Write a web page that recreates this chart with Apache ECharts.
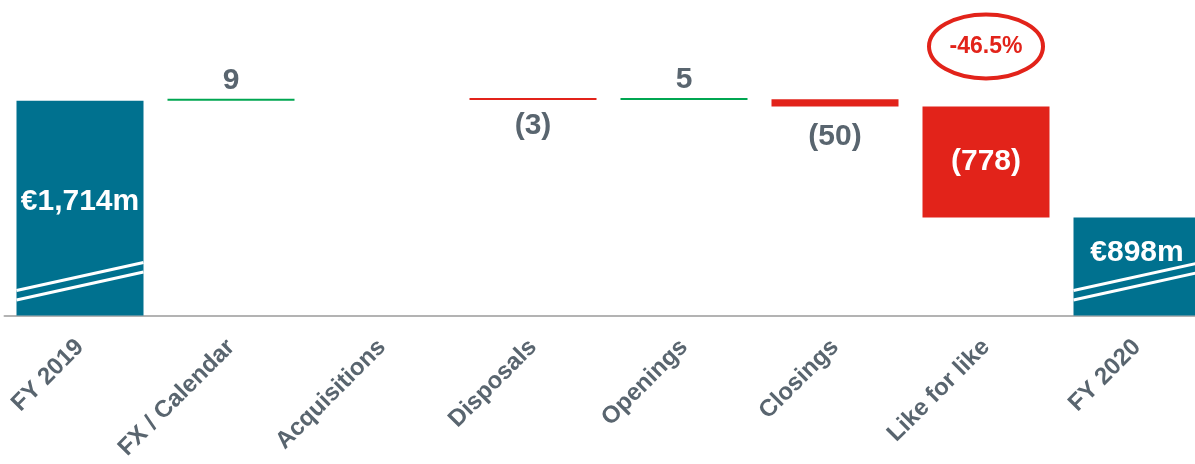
<!DOCTYPE html>
<html>
<head>
<meta charset="utf-8">
<script src="https://cdn.jsdelivr.net/npm/echarts@6/dist/echarts.min.js"></script>
<style>
  html, body { margin: 0; padding: 0; background: #fff; }
  #myChart { width: 1195px; height: 464px; }
</style>
</head>
<body>
<div id="myChart"></div>
<script>
var categories = ['FY 2019', 'FX / Calendar', 'Acquisitions', 'Disposals', 'Openings', 'Closings', 'Like for like', 'FY 2020'];
var changes = [1714, 9, 0, -3, 5, -50, -778, 898];
var isTotal = [true, false, false, false, false, false, false, true];
var valueLabels = ['€1,714m', '9', '', '(3)', '5', '(50)', '(778)', '€898m'];
var lflIndex = 6;
var lflChangeLabel = '-46.5%';
var brokenBars = [0, 7];

var yMin = 211, yMax = 2420;
var teal = '#00718f', green = '#00a651', red = '#e2231a', grey = '#59656f';
var font = '"Liberation Sans", Arial, sans-serif';

// build waterfall base + visible parts
var bases = [], heights = [], running = 0;
changes.forEach(function (d, i) {
    if (isTotal[i]) {
        bases.push(0);
        heights.push(d);
        running = d;
    } else if (d === 0) {
        bases.push('-');
        heights.push('-');
    } else if (d > 0) {
        bases.push(running);
        heights.push(d);
        running += d;
    } else {
        running += d;
        bases.push(running);
        heights.push(-d);
    }
});

var barData = heights.map(function (h, i) {
    var d = changes[i];
    var color = isTotal[i] ? teal : (d >= 0 ? green : red);
    var label;
    if (isTotal[i]) {
        label = { show: true, position: 'inside', color: '#fff', fontSize: 30, offset: [0, i === 0 ? -6 : -14] };
    } else if (i === lflIndex) {
        label = { show: true, position: 'inside', color: '#fff', fontSize: 30 };
    } else if (d > 0) {
        label = { show: true, position: 'top', color: grey, fontSize: 30, distance: 3 };
    } else {
        label = { show: true, position: 'bottom', color: grey, fontSize: 30, distance: i === 5 ? 15 : 11 };
    }
    label.fontWeight = 'bold';
    label.fontFamily = font;
    label.formatter = valueLabels[i];
    return { value: h, itemStyle: { color: color }, label: label };
});

var myChart = echarts.init(document.getElementById('myChart'));
var option = {
    animation: false,
    grid: { left: 4.5, width: 1208, top: 0, bottom: 148.5, containLabel: false, outerBoundsMode: 'none' },
    xAxis: {
        type: 'category',
        data: categories,
        axisTick: { show: false },
        axisLine: { lineStyle: { color: '#b3b3b3', width: 2 } },
        axisLabel: {
            interval: 0,
            rotate: 45,
            margin: 28,
            color: grey,
            fontSize: 24,
            fontWeight: 'bold',
            fontFamily: font
        }
    },
    yAxis: { type: 'value', min: yMin, max: yMax, show: false, splitLine: { show: false } },
    series: [
        {
            type: 'bar',
            stack: 'wf',
            barWidth: 127,
            itemStyle: { color: 'transparent' },
            silent: true,
            data: bases
        },
        {
            type: 'bar',
            stack: 'wf',
            barWidth: 127,
            barMinHeight: 2,
            data: barData
        },
        {
            // axis-break stripes on the total bars
            type: 'custom',
            silent: true,
            z: 5,
            data: brokenBars.map(function (i) { return [i, yMin]; }),
            renderItem: function (params, api) {
                var p = api.coord([api.value(0), api.value(1)]);
                var half = 63.5;
                var lines = [0, 9.5].map(function (off) {
                    return {
                        type: 'line',
                        shape: { x1: p[0] - half, y1: p[1] - 15.5 - off, x2: p[0] + half, y2: p[1] - 43.5 - off },
                        style: { stroke: '#fff', lineWidth: 3 }
                    };
                });
                return { type: 'group', children: lines };
            }
        },
        {
            // circled like-for-like change
            type: 'custom',
            silent: true,
            data: [[lflIndex, bases[lflIndex] + heights[lflIndex]]],
            renderItem: function (params, api) {
                var p = api.coord([api.value(0), api.value(1)]);
                var cy = p[1] - 60;
                return {
                    type: 'group',
                    children: [
                        {
                            type: 'ellipse',
                            shape: { cx: p[0], cy: cy, rx: 57, ry: 32 },
                            style: { fill: '#fff', stroke: red, lineWidth: 4 }
                        },
                        {
                            type: 'text',
                            x: p[0], y: cy,
                            style: {
                                text: lflChangeLabel,
                                fill: red,
                                font: 'bold 23px ' + font,
                                align: 'center',
                                verticalAlign: 'middle'
                            }
                        }
                    ]
                };
            }
        }
    ]
};

myChart.setOption(option);
</script>
</body>
</html>
